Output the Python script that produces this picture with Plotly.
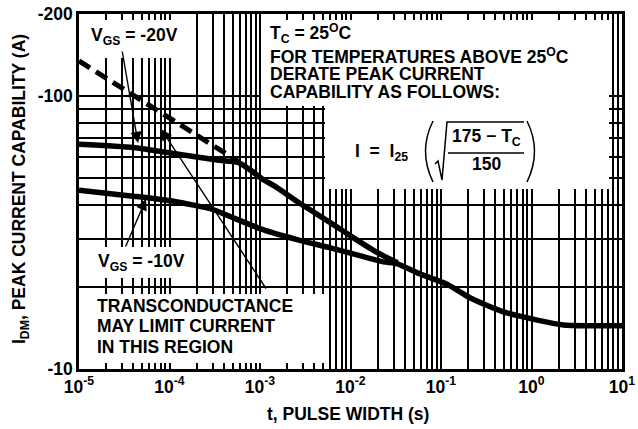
import plotly.graph_objects as go

# ---------------- data ----------------
# V_GS = -20V curve (pulse width in s, peak current magnitude in A)
t_vgs20 = [1e-5, 3.95e-5, 1.1e-4, 3.37e-4, 5.74e-4, 8.2e-4, 1.08e-3, 1.47e-3,
           2.57e-3, 5.98e-3, 1.07e-2, 1.98e-2, 3.3e-2]
i_vgs20 = [66.6, 64.8, 61.7, 58.3, 57.2, 53.0, 49.5, 46.7,
           41.1, 34.4, 30.3, 26.7, 24.5]

# V_GS = -10V curve (continues as the common curve after the merge)
t_vgs10 = [1e-5, 3.95e-5, 1.1e-4, 3.03e-4, 4.68e-4, 1.08e-3, 2.57e-3, 5.98e-3,
           1.39e-2, 2.31e-2, 3.3e-2, 5.48e-2, 0.118, 0.211, 0.49, 1.16, 2.26,
           4.17, 10.0]
i_vgs10 = [45.2, 43.0, 41.2, 38.4, 36.2, 32.4, 29.8, 27.8,
           25.8, 24.7, 24.3, 22.5, 20.4, 18.2, 16.2, 15.1, 14.5,
           14.4, 14.4]

# transconductance limit (dashed)
t_limit = [1e-5, 5.74e-4]
i_limit = [134.6, 57.7]

# axis ticks
x_decades = [-5, -4, -3, -2, -1, 0, 1]
y_major = [10, 100, 200]
y_major_text = ["-10", "-100", "-200"]

# ---------------- figure geometry ----------------
W, H = 638, 429
L, R, T, B = 79, 622, 14, 369

def px(x):
    return (x - L) / (R - L)

def py(y):
    return (B - y) / (B - T)

FONT = "Liberation Sans, Arial, Helvetica, sans-serif"
FS = 17.5

x_tickvals, x_ticktext = [], []
for d in x_decades:
    for m in range(1, 10):
        if d == x_decades[-1] and m > 1:
            break
        x_tickvals.append(m * 10.0 ** d)
        x_ticktext.append(f"10<sup>{d}</sup>" if m == 1 else "")

y_tickvals, y_ticktext = [], []
for v in range(10, 101, 10):
    y_tickvals.append(v)
    y_ticktext.append(y_major_text[y_major.index(v)] if v in y_major else "")
y_tickvals.append(200)
y_ticktext.append("-200")

fig = go.Figure()
fig.add_trace(go.Scatter(x=t_limit, y=i_limit, mode="lines",
                         line=dict(color="black", width=5, dash="13px,7px"),
                         hoverinfo="skip", showlegend=False))
fig.add_trace(go.Scatter(x=t_vgs20, y=i_vgs20, mode="lines",
                         line=dict(color="black", width=5.5, shape="spline", smoothing=0.5),
                         showlegend=False))
fig.add_trace(go.Scatter(x=t_vgs10, y=i_vgs10, mode="lines",
                         line=dict(color="black", width=5.5, shape="spline", smoothing=0.6),
                         showlegend=False))

# white masking boxes over the grid (kept clear of the curves; grid stubs
# left near the frame act as the inside ticks of the original)
boxes = [
    (81, 193, 20, 58),     # V_GS = -20V label
    (261, 609, 20, 106),   # Tc text
    (325, 609, 20, 189),   # formula
    (95, 195, 247, 278),   # V_GS = -10V label
    (81, 327, 294, 363),   # transconductance text
]
for x0, x1, y0, y1 in boxes:
    fig.add_shape(type="rect", xref="paper", yref="paper",
                  x0=px(x0), x1=px(x1), y0=py(y1), y1=py(y0),
                  fillcolor="white", line=dict(width=0), layer="above")

def text(s, x, y, size=FS, xanchor="left", yanchor="middle", angle=0, weight="bold"):
    fig.add_annotation(text=s, xref="paper", yref="paper", x=px(x), y=py(y),
                       xanchor=xanchor, yanchor=yanchor, showarrow=False,
                       textangle=angle,
                       font=dict(family=FONT, size=size, color="black", weight=weight))

def arrow(x_tail, y_tail, x_head, y_head):
    fig.add_annotation(text="", xref="paper", yref="paper",
                       x=px(x_head), y=py(y_head),
                       ax=x_tail - x_head, ay=y_tail - y_head,
                       showarrow=True, arrowhead=2, arrowsize=1.6,
                       arrowwidth=1.4, arrowcolor="black")

def path(pts_str):
    fig.add_shape(type="path", xref="paper", yref="paper", path=pts_str,
                  line=dict(color="black", width=1.5), layer="above")

text("V<sub>GS</sub> = -20V", 89, 36)
text("V<sub>GS</sub> = -10V", 96, 262)
text("T<sub>C</sub> = 25<sup>O</sup>C", 268, 33)
text("FOR TEMPERATURES ABOVE 25<sup>O</sup>C", 268, 56)
text("DERATE PEAK CURRENT", 268, 74)
text("CAPABILITY AS FOLLOWS:", 268, 92)
text("TRANSCONDUCTANCE", 95, 306)
text("MAY LIMIT CURRENT", 95, 326)
text("IN THIS REGION", 95, 347)

# formula I = I25 ( sqrt((175 - Tc)/150) )
text("I  =  I<sub>25</sub>", 353, 152)
text("175 \u2212 T<sub>C</sub>", 486, 137, xanchor="center")
text("150", 486, 164, xanchor="center")
# fraction bar
path(f"M {px(448)},{py(153)} L {px(524)},{py(153)}")
# radical sign
path(f"M {px(435)},{py(164)} L {px(438)},{py(161)} L {px(442)},{py(180)} "
     f"L {px(447)},{py(122)} L {px(524)},{py(122)}")
# parentheses
path(f"M {px(433)},{py(121)} Q {px(418)},{py(151)} {px(433)},{py(182)}")
path(f"M {px(527)},{py(121)} Q {px(542)},{py(151)} {px(527)},{py(182)}")

arrow(122, 50, 138, 143)
arrow(125, 248, 146, 199)
arrow(267, 290, 161, 129)

# axis titles
text("t, PULSE WIDTH (s)", 348, 414, xanchor="center")
text("I<sub>DM</sub>, PEAK CURRENT CAPABILITY (A)", 20, 189, xanchor="center", angle=-90)

axis_common = dict(showline=True, linecolor="black", linewidth=2.5, mirror="ticks",
                   showgrid=True, gridcolor="black", gridwidth=1.5,
                   ticks="", zeroline=False, ticklabeloverflow="allow",
                   tickfont=dict(family=FONT, size=FS, color="black", weight="bold"))

fig.update_xaxes(type="log", range=[-5, 1], tickmode="array",
                 tickvals=x_tickvals, ticktext=x_ticktext, **axis_common)
fig.update_yaxes(type="log", range=[1, 2.30103], tickmode="array",
                 tickvals=y_tickvals, ticktext=y_ticktext, **axis_common)

fig.update_layout(width=W, height=H,
                  margin=dict(l=L, r=W - R, t=T, b=H - B, autoexpand=False),
                  paper_bgcolor="white", plot_bgcolor="white",
                  showlegend=False)

fig.write_html("out.html", config={"displayModeBar": False},
               post_script="document.body.style.margin='0';document.body.style.padding='0';")
